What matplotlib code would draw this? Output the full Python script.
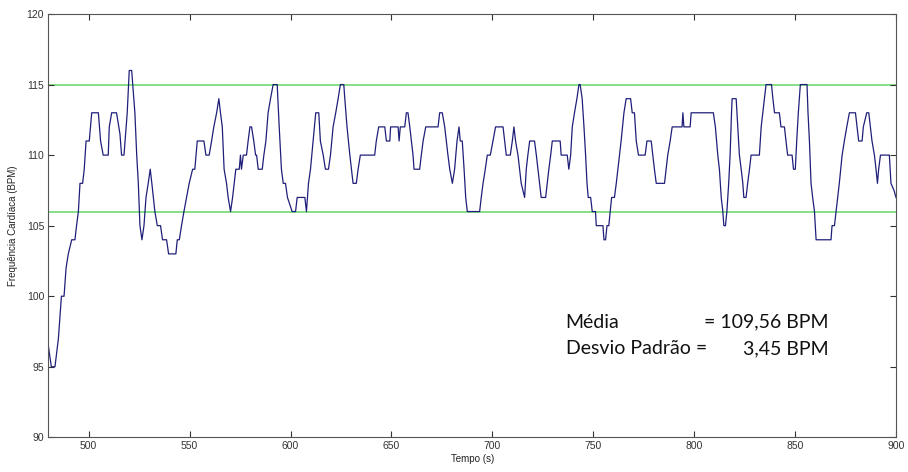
import matplotlib
matplotlib.use("Agg")
import matplotlib.pyplot as plt

# Heart-rate trace: time (s) and BPM at each vertex of the step-like recording
tempo = [
    480.0, 481.5, 483.3, 485.0, 486.5, 487.8, 488.8, 489.9, 491.6, 493.2,
    494.0, 494.9, 495.7, 497.0, 497.8, 498.7, 500.3, 501.5, 504.8, 505.9,
    507.2, 509.7, 510.2, 511.4, 513.8, 515.5, 516.3, 517.5, 519.1, 520.1,
    521.3, 522.9, 523.8, 524.6, 525.4, 526.4, 527.4, 528.4, 529.5, 530.5,
    531.3, 532.8, 534.0, 535.6, 536.6, 538.6, 539.6, 543.2, 543.9, 544.9,
    546.0, 547.2, 548.5, 549.8, 551.5, 552.6, 553.8, 557.1, 558.1, 559.7,
    560.9, 562.0, 563.4, 564.5, 565.3, 566.2, 567.1, 568.3, 569.1, 570.3,
    571.3, 572.1, 572.9, 574.6, 575.2, 575.7, 576.6, 578.2, 579.0, 579.9,
    580.7, 581.8, 582.7, 583.2, 584.0, 586.0, 586.8, 587.8, 588.9, 590.1,
    591.4, 593.4, 594.4, 595.5, 596.4, 597.5, 598.5, 600.8, 602.5, 603.3,
    607.1, 607.9, 608.9, 609.9, 611.2, 612.5, 614.0, 614.8, 616.2, 617.3,
    618.8, 619.8, 621.1, 622.4, 623.6, 624.7, 626.4, 626.9, 628.0, 629.4,
    630.2, 631.0, 632.6, 633.5, 634.6, 641.7, 642.5, 643.7, 646.7, 647.5,
    649.2, 649.6, 653.3, 653.8, 654.4, 656.6, 657.4, 658.2, 659.1, 659.9,
    660.7, 661.2, 664.0, 664.8, 665.7, 667.0, 673.1, 673.9, 675.2, 676.4,
    677.2, 678.0, 678.9, 680.2, 681.3, 682.5, 683.5, 684.1, 685.1, 686.0,
    686.8, 687.6, 693.7, 694.5, 695.4, 696.5, 697.5, 699.0, 700.3, 701.6,
    705.3, 706.1, 706.9, 708.9, 709.9, 710.7, 711.5, 712.7, 713.5, 714.3,
    716.0, 716.8, 717.6, 718.5, 720.9, 721.8, 722.6, 723.4, 724.2, 726.4,
    727.2, 728.0, 728.9, 729.7, 733.6, 734.1, 737.1, 737.9, 738.8, 739.6,
    740.7, 741.9, 742.9, 743.5, 744.5, 745.4, 746.2, 746.9, 747.5, 748.7,
    749.5, 751.1, 751.5, 754.8, 755.3, 756.1, 756.8, 757.7, 758.4, 759.1,
    760.5, 761.4, 762.2, 763.8, 765.2, 766.3, 768.5, 769.3, 770.4, 771.3,
    772.4, 775.7, 776.6, 778.7, 779.5, 780.3, 781.2, 785.3, 786.1, 786.9,
    788.1, 789.1, 794.0, 794.4, 794.9, 798.0, 798.5, 809.5, 810.5, 811.7,
    812.5, 813.4, 814.2, 814.7, 815.5, 816.2, 817.1, 817.8, 818.5, 818.8,
    820.8, 821.6, 822.4, 823.3, 824.1, 824.6, 825.7, 826.5, 827.4, 828.2,
    832.3, 833.2, 834.0, 834.8, 835.6, 838.3, 839.0, 839.8, 842.2, 843.0,
    844.7, 845.5, 846.3, 848.5, 849.2, 850.1, 850.8, 851.6, 852.6, 855.9,
    856.4, 857.1, 857.9, 858.7, 859.6, 860.4, 867.8, 868.3, 869.5, 870.3,
    871.1, 871.9, 873.3, 874.4, 875.6, 876.9, 879.9, 880.7, 881.5, 883.2,
    883.8, 885.5, 886.5, 887.3, 888.1, 889.3, 890.1, 890.8, 891.4, 892.3,
    896.7, 897.5, 899.0, 900.0,
]
bpm = [
    96.5, 95, 95, 97, 100, 100, 102, 103, 104, 104,
    105, 106, 108, 108, 109, 111, 111, 113, 113, 111,
    110, 110, 112, 113, 113, 111.5, 110, 110, 113, 116,
    116, 113, 110, 108, 105, 104, 105, 107, 108, 109,
    108, 106, 105, 105, 104, 104, 103, 103, 104, 104,
    105, 106, 107, 108, 109, 109, 111, 111, 110, 110,
    111, 112, 113, 114, 113, 112, 109, 108, 107, 106,
    107, 108, 109, 109, 110, 109, 110, 110, 111, 112,
    112, 111, 110, 110, 109, 109, 110, 111, 113, 114,
    115, 115, 112, 109, 108, 108, 107, 106, 106, 107,
    107, 106, 108, 109, 111, 113, 113, 111, 110, 109,
    109, 110, 112, 113, 114, 115, 115, 114, 112, 110,
    109, 108, 108, 109, 110, 110, 111, 112, 112, 111,
    111, 112, 112, 111, 112, 112, 113, 113, 112, 111,
    110, 109, 109, 110, 111, 112, 112, 113, 113, 112,
    111, 110, 109, 108, 109, 111, 112, 111, 111, 109,
    107, 106, 106, 107, 108, 109, 110, 110, 111, 112,
    112, 111, 110, 110, 111, 112, 111, 110, 109, 108,
    107, 109, 110, 111, 111, 110, 109, 108, 107, 107,
    108, 109, 110, 111, 111, 110, 110, 109, 110, 112,
    113, 114, 115, 115, 114, 112, 110, 108, 107, 107,
    106, 106, 105, 105, 104, 104, 105, 105, 106, 107,
    107, 108, 109, 111, 113, 114, 114, 113, 113, 111,
    110, 110, 111, 111, 110, 109, 108, 108, 109, 110,
    111, 112, 112, 113, 112, 112, 113, 113, 112, 110,
    109, 107, 106, 105, 105, 106, 108, 110, 113, 114,
    114, 112, 110, 109, 108, 107, 107, 108, 109, 110,
    110, 112, 113, 114, 115, 115, 114, 113, 113, 112,
    112, 111, 110, 110, 109, 109, 111, 113, 115, 115,
    113, 111, 108, 107, 106, 104, 104, 105, 105, 106,
    107, 108, 110, 111, 112, 113, 113, 112, 111, 111,
    112, 113, 113, 112, 111, 110, 109, 108, 109, 110,
    110, 108, 107.5, 107,
]

limites = [106, 115]          # horizontal reference lines (BPM)
x_ticks = [500, 550, 600, 650, 700, 750, 800, 850, 900]
y_ticks = [90, 95, 100, 105, 110, 115, 120]
media = "109,56"
desvio = "3,45"

plt.rcParams["font.family"] = ["Liberation Sans", "DejaVu Sans"]

fig = plt.figure(figsize=(9.08, 4.72), dpi=100)
ax = fig.add_axes([0.0532, 0.0735, 0.9336, 0.8968])

for lim in limites:
    ax.axhline(lim, color="#66d466", lw=1.1, zorder=1)

ax.plot(tempo, bpm, color="#1f1f7a", lw=0.9, zorder=2)

ax.set_xlim(480, 900)
ax.set_ylim(90, 120)
ax.set_xticks(x_ticks)
ax.set_yticks(y_ticks)
ax.tick_params(direction="in", length=4.5, width=0.8, labelsize=7.5,
               colors="#333333", top=True, right=True, pad=3)
for s in ax.spines.values():
    s.set_color("#555555")
    s.set_linewidth(0.8)

ax.set_xlabel("Tempo (s)", fontsize=7, color="#222222", labelpad=2)
ax.set_ylabel("Frequência Cardíaca (BPM)", fontsize=7, color="#222222", labelpad=6)

# Summary statistics block
txt_kw = dict(transform=ax.transData, fontsize=14, family=["Lato", "DejaVu Sans"],
              color="#111111", va="center")
ax.text(736.3, 98.15, "Média", ha="left", **txt_kw)
ax.text(866.5, 98.15, f"= {media} BPM", ha="right", **txt_kw)
ax.text(736.3, 96.3, "Desvio Padrão =", ha="left", **txt_kw)
ax.text(866.5, 96.3, f"{desvio} BPM", ha="right", **txt_kw)

fig.savefig("out.png", dpi=100, facecolor="white")
